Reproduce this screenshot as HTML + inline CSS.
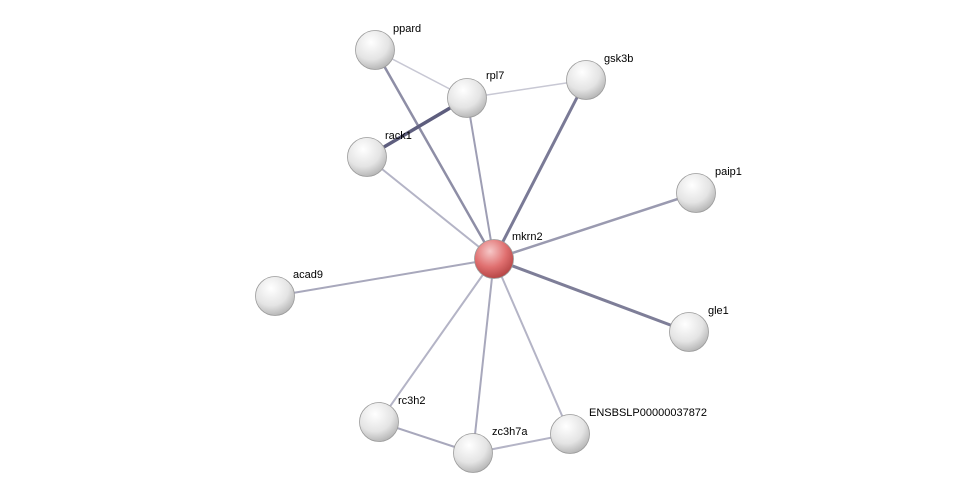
<!DOCTYPE html>
<html><head><meta charset="utf-8"><style>
html,body{margin:0;padding:0;background:#fff;}
svg{display:block;}
text{font-family:"Liberation Sans",sans-serif;font-size:11px;fill:#000;}
</style></head><body>
<svg width="976" height="499" viewBox="0 0 976 499" xmlns="http://www.w3.org/2000/svg">
<defs>
<radialGradient id="g" cx="0.4" cy="0.3" r="0.75">
<stop offset="0" stop-color="#ffffff"/><stop offset="0.6" stop-color="#e4e4e4"/><stop offset="1" stop-color="#b0b0b0"/>
</radialGradient>
<radialGradient id="r" cx="0.4" cy="0.3" r="0.75">
<stop offset="0" stop-color="#f6c8c8"/><stop offset="0.55" stop-color="#e07070"/><stop offset="1" stop-color="#b04040"/>
</radialGradient>
</defs>
<g stroke-linecap="round">
<line x1="375" y1="50" x2="467" y2="98" stroke="#c8c8d4" stroke-width="1.5"/>
<line x1="467" y1="98" x2="586" y2="80" stroke="#c8c8d4" stroke-width="1.5"/>
<line x1="375" y1="50" x2="494" y2="259" stroke="#8e8ea6" stroke-width="2.5"/>
<line x1="467" y1="98" x2="367" y2="157" stroke="#5e5e7e" stroke-width="3.5"/>
<line x1="467" y1="98" x2="494" y2="259" stroke="#9e9eb4" stroke-width="2"/>
<line x1="586" y1="80" x2="494" y2="259" stroke="#7a7a96" stroke-width="3"/>
<line x1="367" y1="157" x2="494" y2="259" stroke="#b4b4c6" stroke-width="2"/>
<line x1="696" y1="193" x2="494" y2="259" stroke="#9a9ab0" stroke-width="2.5"/>
<line x1="275" y1="296" x2="494" y2="259" stroke="#a8a8bc" stroke-width="2"/>
<line x1="689" y1="332" x2="494" y2="259" stroke="#7e7e98" stroke-width="3"/>
<line x1="379" y1="422" x2="494" y2="259" stroke="#b4b4c6" stroke-width="2"/>
<line x1="473" y1="453" x2="494" y2="259" stroke="#a8a8bc" stroke-width="2"/>
<line x1="570" y1="434" x2="494" y2="259" stroke="#b4b4c6" stroke-width="2"/>
<line x1="379" y1="422" x2="473" y2="453" stroke="#a8a8bc" stroke-width="2"/>
<line x1="473" y1="453" x2="570" y2="434" stroke="#b4b4c6" stroke-width="2"/>
</g>
<g stroke="#9a9a9a" stroke-width="0.8">
<circle cx="375" cy="50" r="19.5" fill="url(#g)"/>
<circle cx="467" cy="98" r="19.5" fill="url(#g)"/>
<circle cx="586" cy="80" r="19.5" fill="url(#g)"/>
<circle cx="367" cy="157" r="19.5" fill="url(#g)"/>
<circle cx="696" cy="193" r="19.5" fill="url(#g)"/>
<circle cx="494" cy="259" r="19.5" fill="url(#r)"/>
<circle cx="275" cy="296" r="19.5" fill="url(#g)"/>
<circle cx="689" cy="332" r="19.5" fill="url(#g)"/>
<circle cx="379" cy="422" r="19.5" fill="url(#g)"/>
<circle cx="473" cy="453" r="19.5" fill="url(#g)"/>
<circle cx="570" cy="434" r="19.5" fill="url(#g)"/>
</g>
<text x="393" y="32">ppard</text>
<text x="486" y="79">rpl7</text>
<text x="604" y="62">gsk3b</text>
<text x="385" y="139">rack1</text>
<text x="715" y="175">paip1</text>
<text x="512" y="240">mkrn2</text>
<text x="293" y="278">acad9</text>
<text x="708" y="314">gle1</text>
<text x="398" y="404">rc3h2</text>
<text x="492" y="435">zc3h7a</text>
<text x="589" y="416">ENSBSLP00000037872</text>
</svg>
</body></html>
